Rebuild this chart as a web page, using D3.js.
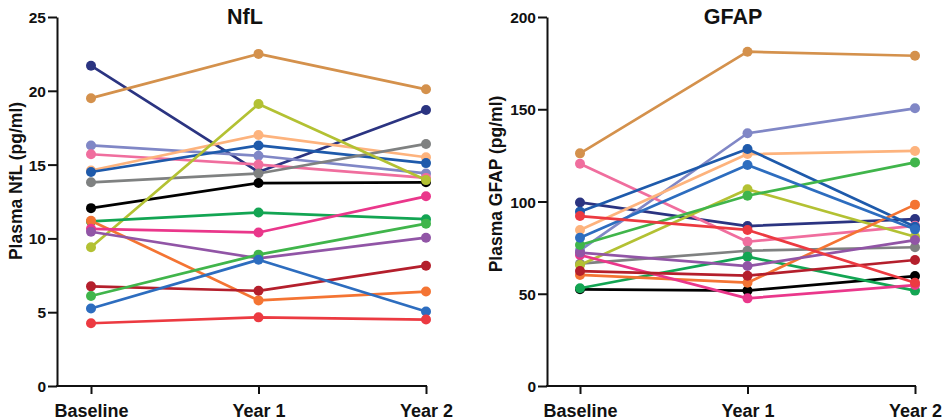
<!DOCTYPE html>
<html>
<head>
<meta charset="utf-8">
<script src="https://cdn.jsdelivr.net/npm/d3@7"></script>
<style>
  html, body { margin: 0; padding: 0; background: #fff; }
  svg { display: block; }
  text { font-family: "Liberation Sans", Arial, Helvetica, sans-serif; font-weight: bold; fill: #111; }
</style>
</head>
<body>
<svg id="chart" width="951" height="420"></svg>
<script>
const groups = ["Baseline", "Year 1", "Year 2"];
const colors = ["#2b3481", "#d4914c", "#8087c6", "#f06e9e", "#fdb37d", "#1e5aab", "#7f8181", "#000000",
                "#b3c133", "#13a553", "#f47433", "#ea378b", "#9155a6", "#b41f2c", "#40b54b", "#2d6dbf", "#ec3a41"];
const nflValues = [
  [21.7, 14.5, 18.7], [19.5, 22.5, 20.1], [16.3, 15.6, 14.4], [15.7, 15.0, 14.1],
  [14.6, 17.0, 15.5], [14.5, 16.3, 15.1], [13.8, 14.4, 16.4], [12.05, 13.75, 13.8],
  [9.4, 19.1, 13.95], [11.15, 11.75, 11.3], [11.2, 5.8, 6.4], [10.65, 10.4, 12.85],
  [10.45, 8.65, 10.05], [6.75, 6.45, 8.15], [6.1, 8.9, 11.0], [5.25, 8.55, 5.05], [4.25, 4.65, 4.5]
];
const gfapValues = [
  [99.5, 86.7, 90.5], [126.1, 181.2, 179.0], [73.5, 137.0, 150.5], [120.5, 78.2, 86.8],
  [84.6, 125.7, 127.4], [94.5, 128.5, 86.3], [66.3, 73.3, 75.2], [52.4, 51.7, 59.6],
  [65.6, 106.6, 80.9], [53.0, 70.1, 51.7], [60.2, 56.0, 98.3], [71.0, 47.5, 54.7],
  [72.3, 65.0, 79.1], [62.3, 59.8, 68.3], [76.4, 103.1, 121.2], [80.4, 119.8, 84.9], [92.1, 84.6, 56.0]
];
const nflTicks = [0, 5, 10, 15, 20, 25];
const gfapTicks = [0, 50, 100, 150, 200];

const svg = d3.select("#chart");

function panel(cfg) {
  const g = svg.append("g");
  const x = d3.scalePoint().domain(groups).range([cfg.x0, cfg.x1]);
  const y = d3.scaleLinear().domain(cfg.domain).range([386, 17]);

  const line = d3.line().x((d, i) => x(groups[i])).y(d => y(d));
  cfg.values.forEach((vals, k) => {
    g.append("path").datum(vals)
      .attr("d", line)
      .attr("fill", "none")
      .attr("stroke", colors[k])
      .attr("stroke-width", 2.7)
      .attr("stroke-linejoin", "round");
    g.selectAll(null).data(vals).enter().append("circle")
      .attr("cx", (d, i) => x(groups[i]))
      .attr("cy", d => y(d))
      .attr("r", 5)
      .attr("fill", colors[k]);
  });

  const ya = g.append("g").attr("transform", `translate(${cfg.axisX},0)`)
    .call(d3.axisLeft(y).tickValues(cfg.ticks).tickSize(9).tickSizeOuter(0).tickPadding(2));
  ya.select(".domain").attr("stroke", "#111").attr("stroke-width", 2);
  ya.selectAll(".tick line").attr("stroke", "#111").attr("stroke-width", 2);
  ya.selectAll(".tick text").attr("font-size", 15.5).attr("dy", "0.36em").style("font-family", "Liberation Sans, Arial, sans-serif").style("font-weight", "bold").attr("fill", "#111");

  const xa = g.append("g").attr("transform", "translate(0,386)")
    .call(d3.axisBottom(x).tickSize(8).tickSizeOuter(0).tickPadding(6));
  xa.select(".domain").remove();
  xa.selectAll(".tick line").attr("stroke", "#111").attr("stroke-width", 2);
  xa.selectAll(".tick text").attr("font-size", 18).attr("dy", "0.95em").style("font-family", "Liberation Sans, Arial, sans-serif").style("font-weight", "bold").attr("fill", "#111");
  g.append("line").attr("x1", cfg.axisX - 1).attr("x2", cfg.x1 + 1).attr("y1", 386).attr("y2", 386)
    .attr("stroke", "#111").attr("stroke-width", 2);

  g.append("text").attr("x", cfg.titleX).attr("y", 24).attr("text-anchor", "middle")
    .attr("font-size", 21.5).text(cfg.title);
  g.append("text").attr("transform", `translate(${cfg.labelX},${cfg.labelY}) rotate(-90)`)
    .attr("text-anchor", "middle").attr("font-size", 17.5).text(cfg.label);
}

panel({ x0: 91, x1: 426, axisX: 57, domain: [0, 25], ticks: nflTicks, values: nflValues,
        title: "NfL", titleX: 245, label: "Plasma NfL (pg/ml)", labelX: 22, labelY: 181 });
panel({ x0: 580, x1: 915, axisX: 547, domain: [0, 200], ticks: gfapTicks, values: gfapValues,
        title: "GFAP", titleX: 733, label: "Plasma GFAP (pg/ml)", labelX: 502, labelY: 184 });
</script>
</body>
</html>
